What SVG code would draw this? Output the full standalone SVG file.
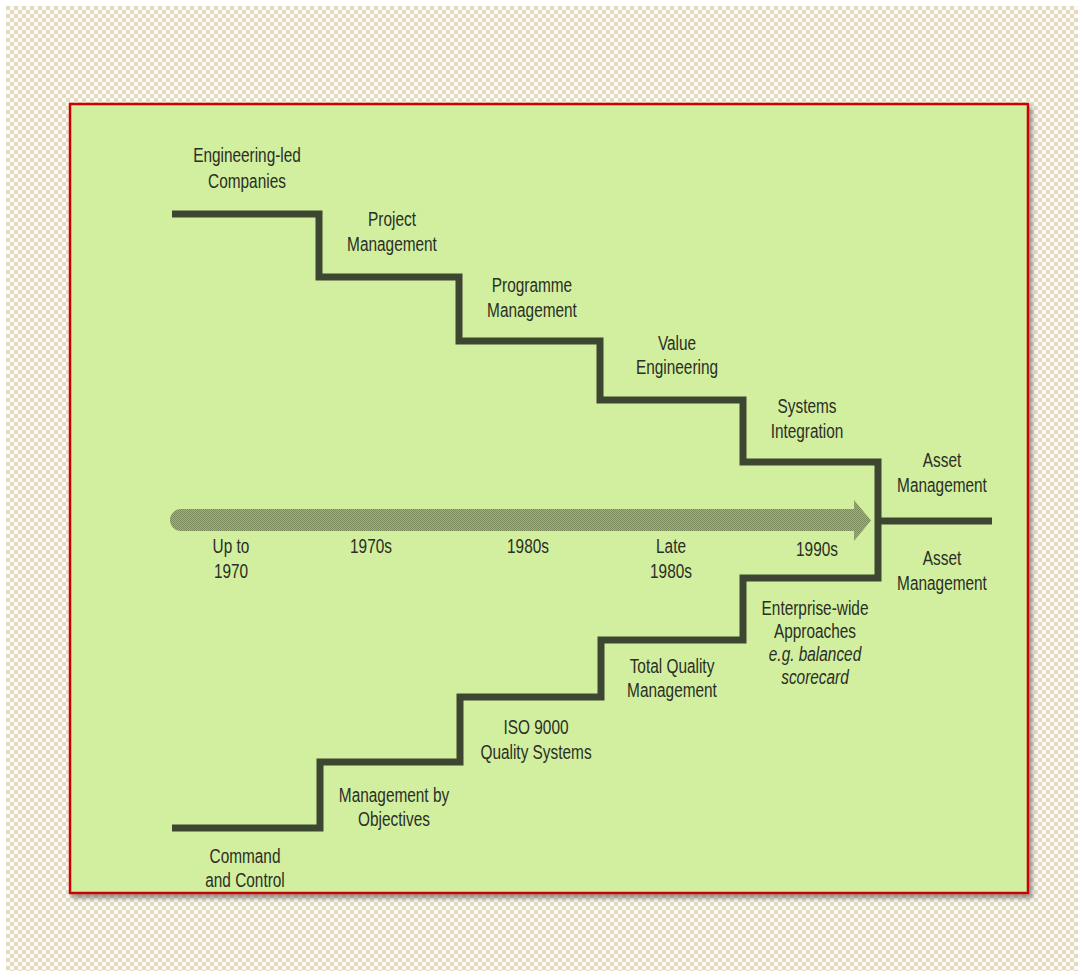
<svg xmlns="http://www.w3.org/2000/svg" width="1084" height="977" viewBox="0 0 1084 977">
  <defs>
    <pattern id="checker" x="6" y="6" width="8" height="8" patternUnits="userSpaceOnUse">
      <rect width="8" height="8" fill="#fbfaf5"/>
      <rect width="4" height="4" fill="#e4dac2"/>
      <rect x="4" y="4" width="4" height="4" fill="#e4dac2"/>
    </pattern>
    <pattern id="halftone" width="2" height="2" patternUnits="userSpaceOnUse">
      <rect width="2" height="2" fill="#a0b07e"/>
      <rect width="1" height="1" fill="#7a8a5a"/>
      <rect x="1" y="1" width="1" height="1" fill="#7a8a5a"/>
    </pattern>
    <filter id="shadow" x="-5%" y="-5%" width="112%" height="112%">
      <feDropShadow dx="3" dy="4" stdDeviation="2" flood-color="#555" flood-opacity="0.6"/>
    </filter>
    <style>
      .lbl { font-family: "Liberation Sans", Arial, sans-serif; font-size: 20px; fill: #2b2f25; text-anchor: middle; }
      .it { font-style: italic; }
      .stair { fill: none; stroke: #3c4630; stroke-width: 7; stroke-linejoin: miter; stroke-linecap: butt; }
    </style>
  </defs>

  <rect x="0" y="0" width="1084" height="977" fill="#ffffff"/>
  <rect x="6" y="6" width="1072" height="965" fill="url(#checker)"/>

  <g id="panel">
    <rect x="70" y="104" width="958" height="789" fill="#d2ee9f" stroke="#cc0000" stroke-width="2.5" filter="url(#shadow)"/>
  </g>

  <g id="connectors">
    <path id="timeline-arrow" d="M181,509 H854 V500 L871,520.5 L854,541 V531 H181 A11,11 0 0 1 181,509 Z" fill="url(#halftone)"/>
    <path id="stairs" class="stair" d="M172,214 H319 V277 H459 V341 H600 V400 H743 V462 H878 V578 H743 V640 H601 V697 H460 V762 H320 V828 H172"/>
    <path id="asset-line" class="stair" d="M878,521 H992"/>
  </g>

  <g id="node-engineering-led"><text class="lbl" transform="translate(247,162) scale(0.77,1)">Engineering-led</text><text class="lbl" transform="translate(247,188) scale(0.77,1)">Companies</text></g>
  <g id="node-project"><text class="lbl" transform="translate(392,226) scale(0.77,1)">Project</text><text class="lbl" transform="translate(392,251) scale(0.77,1)">Management</text></g>
  <g id="node-programme"><text class="lbl" transform="translate(532,292) scale(0.77,1)">Programme</text><text class="lbl" transform="translate(532,317) scale(0.77,1)">Management</text></g>
  <g id="node-value"><text class="lbl" transform="translate(677,350) scale(0.77,1)">Value</text><text class="lbl" transform="translate(677,374) scale(0.77,1)">Engineering</text></g>
  <g id="node-systems"><text class="lbl" transform="translate(807,413) scale(0.77,1)">Systems</text><text class="lbl" transform="translate(807,438) scale(0.77,1)">Integration</text></g>
  <g id="node-asset-top"><text class="lbl" transform="translate(942,467) scale(0.77,1)">Asset</text><text class="lbl" transform="translate(942,492) scale(0.77,1)">Management</text></g>
  <g id="node-asset-bottom"><text class="lbl" transform="translate(942,565) scale(0.77,1)">Asset</text><text class="lbl" transform="translate(942,590) scale(0.77,1)">Management</text></g>

  <g id="node-upto1970"><text class="lbl" transform="translate(231,553) scale(0.77,1)">Up to</text><text class="lbl" transform="translate(231,578) scale(0.77,1)">1970</text></g>
  <g id="node-1970s"><text class="lbl" transform="translate(371,553) scale(0.77,1)">1970s</text></g>
  <g id="node-1980s"><text class="lbl" transform="translate(528,553) scale(0.77,1)">1980s</text></g>
  <g id="node-late1980s"><text class="lbl" transform="translate(671,553) scale(0.77,1)">Late</text><text class="lbl" transform="translate(671,578) scale(0.77,1)">1980s</text></g>
  <g id="node-1990s"><text class="lbl" transform="translate(817,556) scale(0.77,1)">1990s</text></g>

  <g id="node-enterprise"><text class="lbl" transform="translate(815,615) scale(0.77,1)">Enterprise-wide</text><text class="lbl" transform="translate(815,638) scale(0.77,1)">Approaches</text><text class="lbl it" transform="translate(815,661) scale(0.77,1)">e.g. balanced</text><text class="lbl it" transform="translate(815,684) scale(0.77,1)">scorecard</text></g>
  <g id="node-tqm"><text class="lbl" transform="translate(672,673) scale(0.77,1)">Total Quality</text><text class="lbl" transform="translate(672,697) scale(0.77,1)">Management</text></g>
  <g id="node-iso"><text class="lbl" transform="translate(536,734) scale(0.77,1)">ISO 9000</text><text class="lbl" transform="translate(536,759) scale(0.77,1)">Quality Systems</text></g>
  <g id="node-mbo"><text class="lbl" transform="translate(394,802) scale(0.77,1)">Management by</text><text class="lbl" transform="translate(394,826) scale(0.77,1)">Objectives</text></g>
  <g id="node-command"><text class="lbl" transform="translate(245,863) scale(0.77,1)">Command</text><text class="lbl" transform="translate(245,887) scale(0.77,1)">and Control</text></g>
</svg>
